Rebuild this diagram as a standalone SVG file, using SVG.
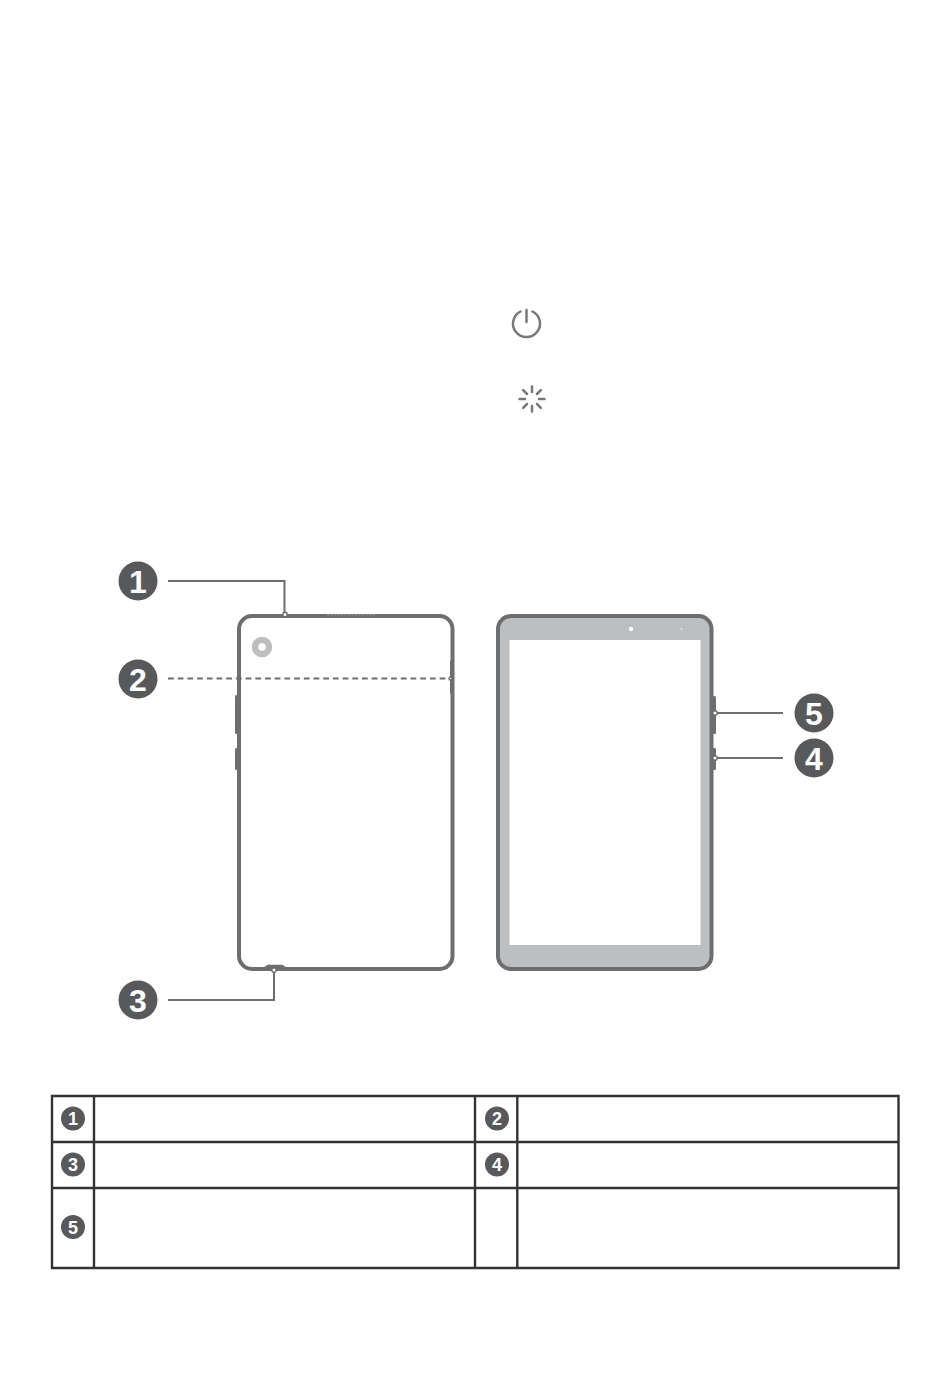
<svg xmlns="http://www.w3.org/2000/svg" width="950" height="1374" viewBox="0 0 950 1374">
<style>
.body{fill:none;stroke:#6d6e70;stroke-width:4}
.btn{fill:#6d6e70}
.lead{fill:none;stroke:#6d6e70;stroke-width:2}
.dot{fill:#fff;stroke:#6d6e70;stroke-width:1.400}
.badge{fill:#58595b}
.num{fill:#fff;font-family:"Liberation Sans",Arial,sans-serif;font-weight:700;text-anchor:middle}
.big{font-size:32px}
.small{font-size:18px}
.grid{fill:none;stroke:#333334;stroke-width:2.400}
.icon{fill:none;stroke:#77787b;stroke-width:2.500;stroke-linecap:round}
</style>
<rect width="950" height="1374" fill="#fff"/>
<g id="power-icon"><path class="icon" d="M520.500 311.500A13.500 13.500 0 1 0 532.500 311.500"/><path class="icon" d="M526.500 310V322"/></g>
<g id="spinner-icon" class="icon"><path d="M532 386.500V392M532 406V411.500M519.500 399H525M539 399H544.500M523.200 390.200L527 394M537 404L540.800 407.800M540.800 390.200L537 394M527 404L523.200 407.800"/></g>
<g id="tablet-back">
<rect class="btn" x="235" y="695" width="4" height="39" rx="1.500"/>
<rect class="btn" x="235" y="748" width="4" height="22" rx="1.500"/>
<rect class="btn" x="450" y="660" width="4" height="34" rx="1.500"/>
<rect class="body" x="239" y="616" width="213.500" height="353" rx="13" ry="13"/>
<path d="M327 614.800H376" fill="none" stroke="#8a8b8d" stroke-width="1.500" stroke-dasharray="2 1.500"/>
<path d="M265 968L268 966H282L285 968" fill="none" stroke="#6d6e70" stroke-width="2.500"/>
<circle cx="262" cy="647" r="7" fill="none" stroke="#bcbec0" stroke-width="6.500"/>
</g>
<g id="tablet-front">
<rect class="btn" x="712" y="696" width="4" height="38" rx="1.500"/>
<rect class="btn" x="712" y="748" width="4" height="22" rx="1.500"/>
<rect x="498" y="616" width="213.500" height="353" rx="13" ry="13" fill="#bcbec0" stroke="#6d6e70" stroke-width="4"/>
<rect x="509.500" y="640" width="191" height="305" fill="#fff"/>
<circle cx="631" cy="629" r="2.200" fill="#fff"/>
<circle cx="681.500" cy="629" r="0.800" fill="#fff"/>
</g>
<g id="connectors">
<path class="lead" d="M168 581H284.500V612"/>
<path class="lead" d="M168 678.500H450" stroke-dasharray="5.800 3.900"/>
<path class="lead" d="M168 1000H274V971"/>
<path class="lead" d="M783 713H717"/>
<path class="lead" d="M783 758H717"/>
<circle class="dot" cx="285" cy="614.500" r="2.200"/>
<circle class="dot" cx="450.500" cy="678.500" r="1.500"/>
<circle class="dot" cx="274" cy="970" r="2.200"/>
<circle class="dot" cx="715" cy="713" r="2.200"/>
<circle class="dot" cx="715" cy="758" r="2.200"/>
</g>
<g id="callout-1"><circle class="badge" cx="138" cy="581" r="19.500"/><text class="num big" x="138" y="592.500">1</text></g>
<g id="callout-2"><circle class="badge" cx="138" cy="679" r="19.500"/><text class="num big" x="138" y="690.500">2</text></g>
<g id="callout-3"><circle class="badge" cx="138" cy="1000" r="19.500"/><text class="num big" x="138" y="1011.500">3</text></g>
<g id="callout-5"><circle class="badge" cx="814" cy="713" r="19.500"/><text class="num big" x="814" y="724.500">5</text></g>
<g id="callout-4"><circle class="badge" cx="814" cy="758" r="19.500"/><text class="num big" x="814" y="769.500">4</text></g>
<g id="legend-table">
<path class="grid" d="M52 1096H898.500V1268H52ZM52 1142H898.500M52 1188H898.500M94 1096V1268M475 1096V1268M517.300 1096V1268"/>
</g>
<g id="legend-1"><circle class="badge" cx="73" cy="1118.500" r="12"/><text class="num small" x="73" y="1125">1</text></g>
<g id="legend-2"><circle class="badge" cx="497" cy="1118.500" r="12"/><text class="num small" x="497" y="1125">2</text></g>
<g id="legend-3"><circle class="badge" cx="73" cy="1164.500" r="12"/><text class="num small" x="73" y="1171">3</text></g>
<g id="legend-4"><circle class="badge" cx="497" cy="1164.500" r="12"/><text class="num small" x="497" y="1171">4</text></g>
<g id="legend-5"><circle class="badge" cx="73" cy="1227" r="12"/><text class="num small" x="73" y="1233.500">5</text></g>
</svg>
